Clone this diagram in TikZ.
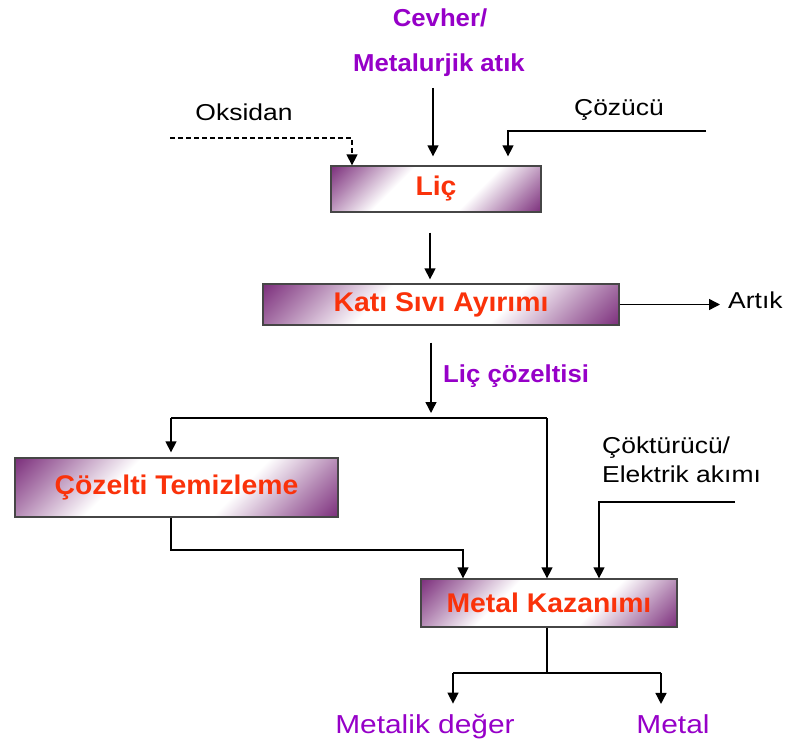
\documentclass[tikz,border=0pt]{standalone}
\usepackage{fontspec}
\setmainfont{Liberation Sans}
\newfontfamily\regf[FakeStretch=1.15]{Liberation Sans}
\newfontfamily\boldf[FakeStretch=1.05]{Liberation Sans}
\usetikzlibrary{arrows.meta}
\definecolor{boxp}{RGB}{110,25,110}
\definecolor{boxred}{RGB}{250,50,10}
\definecolor{lblpurple}{RGB}{150,0,200}
\definecolor{edgegray}{RGB}{70,70,70}
\pgfdeclareverticalshading{boxsh}{100bp}{color(0bp)=(boxp); color(12bp)=(boxp); color(24bp)=(boxp!55!white); color(38bp)=(white); color(62bp)=(white); color(76bp)=(boxp!55!white); color(88bp)=(boxp); color(100bp)=(boxp)}
\tikzset{
  procbox/.style={draw=edgegray, line width=1.3pt, shading=boxsh, shading angle=45,
    text=boxred, inner sep=0pt, font=\boldf\bfseries\fontsize{27}{30}\selectfont},
  inlbl/.style={inner sep=0pt, text=black, font=\regf\fontsize{23}{27}\selectfont},
  plbl/.style={inner sep=0pt, text=lblpurple, font=\boldf\bfseries\fontsize{24.5}{28}\selectfont},
  outlbl/.style={inner sep=0pt, text=lblpurple, font=\regf\fontsize{26}{30}\selectfont},
  conn/.style={line width=1.4pt, draw=black},
  arr/.style={conn, -{Triangle[length=11pt,width=11pt]}},
  darr/.style={arr, dashed, dash pattern=on 5pt off 3pt}
}
\begin{document}
\begin{tikzpicture}[x=1pt,y=-1pt]
\useasboundingbox (0,0) rectangle (786,743);
% boxes
\node[procbox, minimum width=210pt, minimum height=46pt] (lic) at (436,189) {Liç};
\node[procbox, minimum width=356pt, minimum height=41pt] (kat) at (441,304.5) {Katı Sıvı Ayırımı};
\node[procbox, minimum width=323pt, minimum height=59pt] (cozt) at (176.5,487.5) {Çözelti Temizleme};
\node[procbox, minimum width=256pt, minimum height=48pt] (met) at (549,603) {Metal Kazanımı};
% labels
\node[plbl, anchor=base] (cev) at (440,27) {Cevher/};
\node[plbl, anchor=base] (metatik) at (439,72) {Metalurjik atık};
\node[inlbl, anchor=base] (oks) at (244,121) {Oksidan};
\node[inlbl, anchor=base] (coz) at (619,116) {Çözücü};
\node[inlbl, anchor=base west] (art) at (728,308) {Artık};
\node[plbl, anchor=base west] (licc) at (443,382) {Liç çözeltisi};
\node[inlbl, anchor=base west] (ckt) at (602,453) {Çöktürücü/};
\node[inlbl, anchor=base west] (elk) at (602,482) {Elektrik akımı};
\node[outlbl, anchor=base] (mdeg) at (425,733) {Metalik değer};
\node[outlbl, anchor=base] (mtl) at (673,733) {Metal};
% coordinates
\coordinate (oksS) at (170,138);
\coordinate (oksK) at (352,138);
\coordinate (cevS) at (433,88);
\coordinate (cozS) at (706,131);
\coordinate (cozK) at (508,131);
\coordinate (split) at (431,418);
\coordinate (hl) at (171,418);
\coordinate (hr) at (547,418);
\coordinate (cb) at (171,550);
\coordinate (cr) at (463,550);
\coordinate (ckS) at (735,502);
\coordinate (ckK) at (599,502);
\coordinate (mb) at (547,673);
\coordinate (ml) at (453,673);
\coordinate (mr) at (661,673);
% connectors
\draw[darr] (oksS) -- (oksK) -- (oksK |- lic.north);
\draw[arr, shorten >=9pt] (cevS) -- (cevS |- lic.north);
\draw[arr, shorten >=9pt] (cozS) -- (cozK) -- (cozK |- lic.north);
\draw[arr, shorten <=20pt, shorten >=4pt] ([xshift=-6pt]lic.south) -- ([xshift=-6pt]lic.south |- kat.north);
\draw[arr, shorten >=8pt] (kat.east) -- (kat.east -| art.west);
\draw[arr, shorten <=17pt, shorten >=5pt] (kat.south -| split) -- (split);
\draw[conn] (hl) -- (hr);
\draw[arr, shorten >=5pt] (hl) -- (hl |- cozt.north);
\draw[arr] (hr) -- (hr |- met.north);
\draw[arr] (cozt.south -| cb) -- (cb) -- (cr) -- (cr |- met.north);
\draw[arr] (ckS) -- (ckK) -- (ckK |- met.north);
\draw[conn] (met.south -| mb) -- (mb);
\draw[conn] (ml) -- (mr);
\draw[arr, shorten >=10pt] (ml) -- (ml |- mdeg.north);
\draw[arr, shorten >=10pt] (mr) -- (mr |- mtl.north);
\end{tikzpicture}
\end{document}
